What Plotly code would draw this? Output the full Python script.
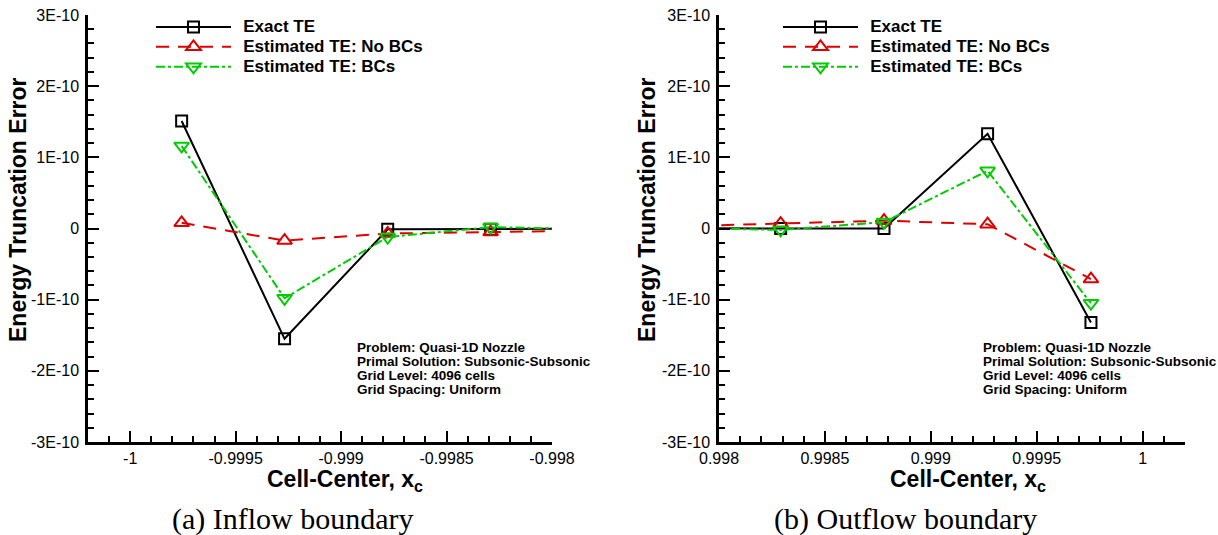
import plotly.graph_objects as go

W, H = 1218, 535

# ---------------- data ----------------
x_in = [-0.999756, -0.999268, -0.998779, -0.998291, -0.997803]
exact_in = [1.51e-10, -1.55e-10, -0.01e-10, -0.01e-10, -0.004e-10]
nobc_in = [0.08e-10, -0.17e-10, -0.07e-10, -0.05e-10, -0.03e-10]
bc_in = [1.16e-10, -0.98e-10, -0.12e-10, 0.02e-10, -0.01e-10]

x_out = [0.997803, 0.998291, 0.998779, 0.999268, 0.999756]
exact_out = [0.003e-10, 0.0, 0.0, 1.33e-10, -1.32e-10]
nobc_out = [0.03e-10, 0.07e-10, 0.11e-10, 0.06e-10, -0.71e-10]
bc_out = [0.01e-10, -0.02e-10, 0.09e-10, 0.81e-10, -1.05e-10]

y_ticks = [3e-10, 2e-10, 1e-10, 0, -1e-10, -2e-10, -3e-10]
y_ticktext = ["3E-10", "2E-10", "1E-10", "0", "-1E-10", "-2E-10", "-3E-10"]
x_ticks_in = [-1.0, -0.9995, -0.999, -0.9985, -0.998]
x_ticktext_in = ["-1", "-0.9995", "-0.999", "-0.9985", "-0.998"]
x_ticks_out = [0.998, 0.9985, 0.999, 0.9995, 1.0]
x_ticktext_out = ["0.998", "0.9985", "0.999", "0.9995", "1"]

names = ["Exact TE", "Estimated TE: No BCs", "Estimated TE: BCs"]
info_lines = ["Problem: Quasi-1D Nozzle", "Primal Solution: Subsonic-Subsonic",
              "Grid Level: 4096 cells", "Grid Spacing: Uniform"]
captions = ["(a) Inflow boundary", "(b) Outflow boundary"]
x_title = "Cell-Center, x<sub>c</sub>"
y_title = "Energy Truncation Error"

BLACK, RED, GREEN = "#000000", "#dd0000", "#00cc00"
FONT = "Liberation Sans"

fig = go.Figure()

def add_series(x, ys, xa, ya, leg):
    styles = [
        (BLACK, "solid", "square-open", 11),
        (RED, "13px,9px", "triangle-up-open", 13),
        (GREEN, "dashdot", "triangle-down-open", 13),
    ]
    for y, name, (c, dash, sym, sz) in zip(ys, names, styles):
        fig.add_trace(go.Scatter(
            x=x, y=y, mode="lines+markers",
            name='\u00a0\u00a0<span style="font-size:17px">' + name + "</span>",
            line=dict(color=c, width=2, dash=dash),
            marker=dict(symbol=sym, size=sz, color=c, line=dict(color=c, width=2)),
            xaxis=xa, yaxis=ya, legend=leg, cliponaxis=True,
        ))

add_series(x_in, [exact_in, nobc_in, bc_in], "x", "y", "legend")
add_series(x_out, [exact_out, nobc_out, bc_out], "x2", "y2", "legend2")

def px_x(p):
    return p / W

def px_y(p):
    return 1 - p / H

ydom = [px_y(442), px_y(15)]

common_axis = dict(
    showline=True, linecolor="black", linewidth=2.5, mirror=False,
    showgrid=False, zeroline=False, ticks="inside", tickcolor="black",
    tickwidth=2, ticklen=11, automargin=False,
    tickfont=dict(family=FONT, size=16, color="black"),
)

yaxis_common = dict(
    common_axis, range=[-3e-10, 3e-10], tickmode="array", tickvals=y_ticks,
    ticktext=y_ticktext, domain=ydom,
    minor=dict(dtick=2e-11, tick0=0, ticks="inside", ticklen=6, tickwidth=1.5, tickcolor="black"),
    ticklabelstandoff=3,
)

legfont = dict(family=FONT, size=13, color="black", weight="bold")

fig.update_layout(
    width=W, height=H, margin=dict(l=0, r=0, t=0, b=0),
    paper_bgcolor="white", plot_bgcolor="white",
    xaxis=dict(common_axis, domain=[px_x(88), px_x(552)], range=[-1.0002, -0.99799999],
               tickmode="array", tickvals=x_ticks_in, ticktext=x_ticktext_in, anchor="y",
               minor=dict(dtick=0.0001, tick0=-1, ticks="inside", ticklen=6, tickwidth=1.5, tickcolor="black")),
    yaxis=dict(yaxis_common, anchor="x"),
    xaxis2=dict(common_axis, domain=[px_x(719), px_x(1185)], range=[0.99799999, 1.0002],
                tickmode="array", tickvals=x_ticks_out, ticktext=x_ticktext_out, anchor="y2",
                minor=dict(dtick=0.0001, tick0=1, ticks="inside", ticklen=6, tickwidth=1.5, tickcolor="black")),
    yaxis2=dict(yaxis_common, anchor="x2"),
    legend=dict(x=px_x(151), y=px_y(12), xanchor="left", yanchor="top",
                bgcolor="rgba(0,0,0,0)", itemwidth=75, font=legfont),
    legend2=dict(x=px_x(778), y=px_y(12), xanchor="left", yanchor="top",
                 bgcolor="rgba(0,0,0,0)", itemwidth=75, font=legfont),
    showlegend=True,
)

# axis titles
for xpix in [345, 968]:
    fig.add_annotation(x=px_x(xpix), y=px_y(480), xref="paper", yref="paper",
                       text=x_title, showarrow=False, xanchor="center", yanchor="middle",
                       font=dict(family=FONT, size=23, color="black", weight="bold"))
for xpix in [18, 647]:
    fig.add_annotation(x=px_x(xpix), y=px_y(210), xref="paper", yref="paper",
                       text=y_title, showarrow=False, textangle=-90,
                       xanchor="center", yanchor="middle",
                       font=dict(family=FONT, size=23, color="black", weight="bold"))

for xpix, cap in zip([293, 905], captions):
    fig.add_annotation(x=px_x(xpix), y=px_y(519), xref="paper", yref="paper",
                       text=cap, showarrow=False, xanchor="center", yanchor="middle",
                       font=dict(family="Liberation Serif", size=30, color="black"))

for xpix in [355, 981]:
    for i, line in enumerate(info_lines):
        fig.add_annotation(x=px_x(xpix), y=px_y(347 + 14 * i), xref="paper", yref="paper",
                           text=line, showarrow=False, align="left",
                           xanchor="left", yanchor="middle",
                           font=dict(family=FONT, size=13.5, color="black", weight="bold"))

fig.write_html("out.html")
